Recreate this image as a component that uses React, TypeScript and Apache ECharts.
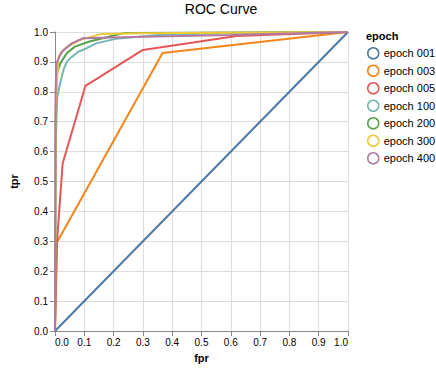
import React, { useEffect, useRef } from "react";
import * as echarts from "echarts";

const epochs = ["epoch 001", "epoch 003", "epoch 005", "epoch 100", "epoch 200", "epoch 300", "epoch 400"];
const colors = ["#4c78a8", "#f58518", "#e45756", "#72b7b2", "#54a24b", "#eeca3b", "#b279a2"];

const fpr001 = [0, 1];
const tpr001 = [0, 1];
const fpr003 = [0, 0.006, 0.367, 1];
const tpr003 = [0, 0.295, 0.93, 1];
const fpr005 = [0, 0.007, 0.026, 0.104, 0.3, 0.62, 1];
const tpr005 = [0, 0.3, 0.56, 0.82, 0.94, 0.987, 1];
const fpr100 = [0, 0.002, 0.007, 0.018, 0.029, 0.04, 0.055, 0.079, 0.107, 0.14, 0.207, 0.35, 0.6, 1];
const tpr100 = [0, 0.6, 0.78, 0.83, 0.873, 0.9, 0.915, 0.934, 0.945, 0.962, 0.977, 0.99, 0.997, 1];
const fpr200 = [0, 0.002, 0.007, 0.018, 0.04, 0.068, 0.118, 0.207, 0.24, 1];
const tpr200 = [0, 0.7, 0.862, 0.895, 0.929, 0.951, 0.968, 0.99, 0.997, 1];
const fpr300 = [0, 0.002, 0.012, 0.034, 0.084, 0.157, 0.3, 1];
const tpr300 = [0, 0.75, 0.917, 0.945, 0.973, 0.993, 0.996, 1];
const fpr400 = [0, 0.002, 0.005, 0.023, 0.057, 0.096, 0.3, 0.6, 1];
const tpr400 = [0, 0.8, 0.896, 0.934, 0.962, 0.979, 0.984, 0.99, 1];

const fprs = [fpr001, fpr003, fpr005, fpr100, fpr200, fpr300, fpr400];
const tprs = [tpr001, tpr003, tpr005, tpr100, tpr200, tpr300, tpr400];

const FONT = "'Liberation Sans', Arial, Helvetica, sans-serif";

export default function App() {
  const ref = useRef<HTMLDivElement>(null);
  useEffect(() => {
    document.body.style.margin = "0";
    const chart = echarts.init(ref.current!, null, { renderer: "svg" });
    const series = epochs.map((name, i) => ({
      name,
      type: "line",
      data: fprs[i].map((x, j) => [x, tprs[i][j]]),
      showSymbol: false,
      symbol: "circle",
      lineStyle: { width: 2, color: colors[i] },
      itemStyle: { color: colors[i] },
    }));
    chart.setOption({
      animation: false,
      textStyle: { fontFamily: FONT },
      title: {
        text: "ROC Curve",
        left: 216,
        top: -3,
        textAlign: "center",
        textStyle: { fontSize: 14, fontWeight: "normal", color: "#000", fontFamily: FONT },
      },
      grid: { left: 48, right: 88, top: 32, bottom: 40, containLabel: false },
      xAxis: {
        type: "value",
        min: 0,
        max: 1,
        interval: 0.1,
        name: "fpr",
        nameLocation: "middle",
        nameGap: 21,
        nameTextStyle: { fontWeight: "bold", fontSize: 11, color: "#000", fontFamily: FONT },
        axisLine: { lineStyle: { color: "#888", width: 1 } },
        axisTick: { show: true, length: 5, lineStyle: { color: "#888" } },
        axisLabel: {
          fontSize: 10,
          color: "#000",
          margin: 6,
          fontFamily: FONT,
          formatter: (v: number) => v.toFixed(1),
          alignMinLabel: "left",
          alignMaxLabel: "right",
        },
        splitLine: { show: true, lineStyle: { color: "#ddd" } },
      },
      yAxis: {
        type: "value",
        min: 0,
        max: 1,
        interval: 0.1,
        name: "tpr",
        nameLocation: "middle",
        nameGap: 36,
        nameRotate: 90,
        nameTextStyle: { fontWeight: "bold", fontSize: 11, color: "#000", fontFamily: FONT },
        axisLine: { show: true, lineStyle: { color: "#888", width: 1 } },
        axisTick: { show: true, length: 5, lineStyle: { color: "#888" } },
        axisLabel: {
          fontSize: 10,
          color: "#000",
          margin: 7,
          fontFamily: FONT,
          formatter: (v: number) => v.toFixed(1),
        },
        splitLine: { show: true, lineStyle: { color: "#ddd" } },
      },
      legend: {
        orient: "vertical",
        left: 367,
        top: 47,
        align: "left",
        padding: 0,
        itemWidth: 11,
        itemHeight: 11,
        itemGap: 5,
        icon: "circle",
        data: epochs.map((name, i) => ({
          name,
          icon: "circle",
          itemStyle: { color: "rgba(0,0,0,0)", borderColor: colors[i], borderWidth: 1.5 },
        })),
        textStyle: { fontSize: 11, color: "#000", fontFamily: FONT, padding: [0, 0, 0, 0] },
      },
      graphic: [
        {
          type: "text",
          left: 366,
          top: 30,
          style: { text: "epoch", font: `bold 11px ${FONT}`, fill: "#000" },
        },
      ],
      series,
    });
    return () => chart.dispose();
  }, []);
  return <div ref={ref} style={{ position: "absolute", left: 0, top: 0, width: 436, height: 371 }} />;
}
